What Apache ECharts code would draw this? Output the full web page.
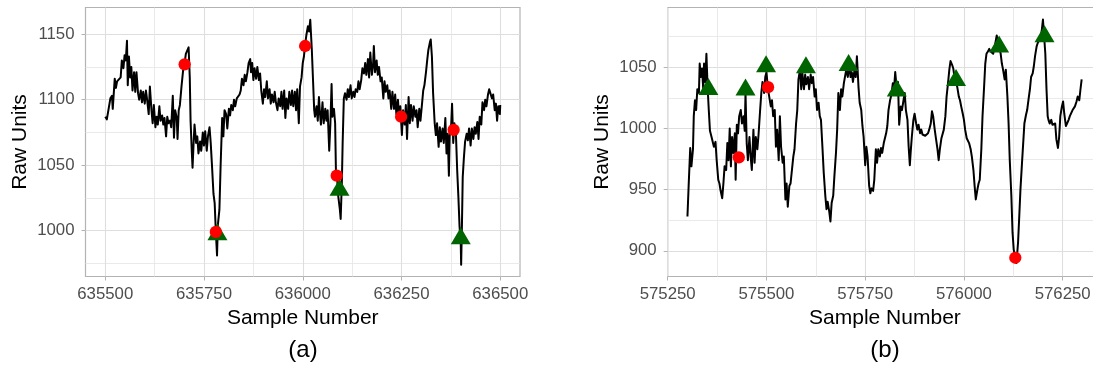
<!DOCTYPE html>
<html>
<head>
<meta charset="utf-8">
<script src="https://cdn.jsdelivr.net/npm/echarts@6/dist/echarts.min.js"></script>
<style>
  html, body { margin: 0; padding: 0; background: #ffffff; }
  #chart { width: 1093px; height: 367px; }
</style>
</head>
<body>
<div id="chart"></div>
<script>
// ---- Panel (a): raw signal around sample 636000 ----
const sampleA = [
  635500,635504,635508,635513,635517,635519,635524,635527,635530,635535,
  635539,635542,635546,635549,635552,635555,635557,635560,635563,635566,
  635569,635573,635576,635579,635583,635586,635590,635593,635596,635600,
  635603,635606,635610,635613,635617,635620,635623,635627,635630,635633,
  635637,635640,635644,635647,635650,635654,635657,635660,635664,635667,
  635671,635674,635677,635681,635683,635686,635689,635693,635698,635701,
  635704,635708,635711,635714,635716,635719,635721,635724,635726,635730,
  635733,635736,635740,635743,635747,635750,635753,635757,635760,635764,
  635767,635770,635774,635777,635780,635783,635785,635789,635792,635796,
  635799,635802,635806,635809,635813,635816,635819,635823,635826,635829,
  635833,635836,635840,635843,635846,635850,635853,635856,635860,635863,
  635867,635869,635872,635875,635878,635882,635885,635889,635892,635895,
  635899,635902,635905,635909,635912,635916,635919,635922,635926,635929,
  635932,635936,635939,635943,635946,635949,635953,635956,635959,635963,
  635966,635970,635973,635976,635980,635983,635986,635990,635993,635997,
  636000,
  636003,636006,636009,636013,636016,636019,636023,636026,636029,636031,
  636035,636038,636041,636043,636046,636050,636053,636057,636060,636063,
  636067,636070,636073,636075,636079,636082,636084,636087,636090,636094,
  636096,636099,636101,636104,636107,636111,636114,636117,636121,636124,
  636128,636131,636134,636138,636141,636144,636148,636151,636155,636158,
  636161,636165,636168,636171,636175,636178,636180,636183,636187,636190,
  636193,636197,636200,636204,636207,636210,636214,636217,636220,636224,
  636227,636231,636234,636237,636241,636244,636247,636251,636254,636258,
  636261,636264,636268,636271,636274,636278,636281,636285,636288,636291,
  636295,636298,636302,636305,636308,636312,636315,636318,636322,636324,
  636327,636330,636334,636337,636340,636344,636347,636350,636354,636357,
  636361,636364,636367,636370,636372,636376,636378,636381,636384,636388,
  636391,636394,636397,636400,636401,636403,636405,636408,636411,636415,
  636418,636421,636425,636428,636432,636435,636438,636442,636445,636448,
  636452,636455,636459,636462,636465,636469,636472,636476,636479,636482,
  636486,636489,636492,636495,636499,636500
];
const rawA = [
  1087,1085,1092,1101,1103,1093,1116,1109,1114,1115,
  1117,1130,1124,1134,1130,1145,1111,1133,1117,1125,
  1107,1121,1106,1121,1105,1100,1107,1098,1106,1097,
  1107,1100,1089,1110,1092,1082,1096,1079,1087,1081,
  1095,1084,1088,1081,1086,1072,1087,1082,1084,1079,
  1103,1071,1092,1086,1070,1092,1096,1110,1125,1128,
  1135,1136,1140,1117,1084,1061,1048,1069,1081,1067,
  1072,1059,1068,1061,1075,1065,1076,1061,1072,1079,
  1067,1051,1028,1021,999,981,1004,1016,1049,1086,
  1072,1092,1089,1078,1093,1088,1096,1092,1100,1095,
  1101,1100,1104,1107,1116,1111,1119,1114,1121,1128,
  1131,1121,1128,1115,1124,1116,1125,1115,1120,1107,
  1097,1108,1102,1114,1101,1108,1097,1104,1098,1106,
  1098,1092,1101,1095,1106,1093,1107,1086,1101,1093,
  1106,1096,1107,1095,1106,1092,1108,1082,1110,1117,
  1128,
  1133,1142,1149,1156,1152,1161,1138,1115,1092,1087,
  1095,1084,1102,1092,1081,1098,1082,1093,1084,1092,
  1061,1082,1112,1087,1093,1082,1046,1040,1026,1016,
  1009,1037,1067,1101,1105,1100,1108,1102,1111,1101,
  1106,1102,1108,1106,1114,1108,1115,1124,1120,1128,
  1119,1131,1117,1136,1119,1126,1141,1121,1130,1119,
  1125,1114,1117,1101,1114,1106,1111,1101,1107,1093,
  1106,1093,1104,1089,1100,1087,1095,1073,1092,1081,
  1096,1070,1102,1082,1096,1084,1095,1087,1092,1079,
  1093,1084,1097,1107,1111,1121,1130,1138,1144,1146,
  1133,1105,1082,1073,1082,1064,1079,1068,1078,1067,
  1086,1059,1074,1042,1072,1082,1097,1067,1082,1072,
  1046,1026,1003,990,974,1004,1041,1056,1068,1074,
  1069,1078,1065,1078,1070,1079,1074,1083,1070,1087,
  1081,1098,1092,1100,1095,1104,1108,1107,1101,1104,
  1092,1097,1084,1095,1089,1096
];
// detected events in panel (a)
const troughSampleA = [635784, 636093, 636400];
const troughRawA    = [997, 1031, 994];
const markSampleA   = [635701, 635780, 636006, 636086, 636249, 636382];
const markRawA      = [1127, 999, 1141, 1042, 1087, 1077];

// ---- Panel (b): raw signal around sample 575800 ----
const sampleB = [
  575300,575303,575307,575310,575314,575316,575319,575322,575325,575329,
  575331,575334,575337,575340,575342,575345,575348,575351,575354,575357,
  575361,575364,575367,575371,575374,575378,575381,575384,575388,575391,
  575394,575398,575401,575404,575407,575410,575413,575416,575420,575422,
  575425,575428,575431,575435,575438,575442,575445,575447,575450,575453,
  575457,575460,575463,575467,575470,575473,575477,575480,575484,575487,
  575490,575494,575497,575500,575504,575507,575511,575514,575517,575521,
  575524,575527,575531,575534,575537,575541,575544,575548,575551,575554,
  575558,575561,575564,575568,575571,575575,575578,575581,575585,575588,
  575591,575595,575598,575601,575605,575608,575612,575615,575618,575622,
  575625,575628,575632,575635,575638,575642,575645,575649,575652,575655,
  575659,575662,575665,575669,575672,575676,575679,575682,575686,575689,
  575692,575696,575699,575702,575706,575709,575713,575716,575719,575723,
  575726,575729,575733,575736,575740,575743,575746,575750,575753,575756,
  575760,575763,575766,575770,575773,575777,575780,575783,575787,575790,
  575793,575797,575800,
  575803,575806,575809,575813,575816,575820,575823,575826,575830,575833,
  575836,575840,575843,575847,575850,575853,575857,575860,575863,575865,
  575868,575872,575875,575879,575882,575885,575889,575892,575895,575899,
  575902,575906,575909,575912,575916,575919,575922,575926,575929,575933,
  575936,575939,575943,575946,575949,575953,575956,575960,575963,575966,
  575970,575973,575976,575980,575983,575987,575990,575993,575997,576000,
  576003,576007,576010,576013,576017,576020,576024,576027,576030,576034,
  576037,576040,576044,576047,576051,576054,576057,576061,576064,576067,
  576071,576074,576078,576083,576086,576089,576093,576096,576099,576103,
  576106,576110,576113,576116,576120,576123,576126,576130,576133,576137,
  576140,576143,576147,576150,576153,576157,576160,576164,576167,576170,
  576174,576177,576180,576184,576187,576190,576194,576197,576200,576202,
  576206,576209,576212,576214,576217,576221,576224,576228,576231,576234,
  576238,576241,576244,576248,576251,576254,576258,576261,576265,576268,
  576271,576275,576278,576281,576285,576288,576292,576295,576298
];
const rawB = [
  928,953,984,969,983,1010,1023,1015,1032,1029,
  1053,1042,1049,1032,1053,1038,1061,1034,1015,998,
  993,992,985,989,974,958,955,949,943,955,
  969,966,988,974,1000,969,993,980,996,958,
  1003,996,1010,1015,1004,1010,998,1029,988,974,
  993,977,966,999,972,993,983,995,1015,1029,
  1038,1029,1042,1046,1032,1026,1018,1023,1010,1015,
  985,999,974,1010,985,972,977,942,955,936,
  953,955,955,977,983,1004,1015,1040,1048,1032,
  1045,1032,1044,1036,1042,1032,1044,1037,1042,1026,
  1032,1015,1021,1010,1007,983,964,945,934,940,
  932,924,939,945,961,980,999,1029,1015,1032,
  1026,1037,1036,1048,1042,1052,1042,1046,1038,1048,
  1042,1059,1034,1021,1015,1002,993,970,985,977,
  953,947,951,949,958,983,972,983,977,984,
  980,988,989,
  996,1002,1015,1023,1027,1037,1032,1046,1032,1038,
  1003,1018,1015,1023,1029,1015,1007,985,970,980,
  993,1007,1012,1004,999,1003,996,999,995,996,
  994,995,996,999,1004,1014,1010,999,992,983,
  974,983,992,991,999,1010,1026,1038,1048,1055,
  1052,1049,1042,1037,1034,1026,1023,1018,1012,1007,
  999,992,993,988,983,977,966,953,942,950,
  955,958,983,1010,1034,1053,1061,1063,1065,1063,
  1064,1061,1067,1076,1070,1067,1061,1053,1048,1040,
  1048,1026,1004,974,945,915,901,894,890,907,
  928,950,972,988,1004,1011,1015,1025,1032,1042,
  1045,1051,1059,1067,1070,1070,1074,1080,1089,1080,
  1061,1032,1010,1007,1004,1007,1003,1002,1004,991,
  984,993,1010,1018,1022,1012,1002,1004,1007,1010,
  1011,1015,1016,1018,1022,1026,1023,1032,1040
];
// detected events in panel (b)
const peakSampleB = [575353, 575447, 575499, 575600, 575708, 575830, 575980, 576089, 576204];
const peakRawB    = [1032, 1031.5, 1050.5, 1049.7, 1051.6, 1030.7, 1039.4, 1066.6, 1075];
const markSampleB = [575430, 575504, 576130];
const markRawB    = [976.4, 1033.7, 894.3];

// ---- axis breaks ----
const xTicksA = [635500, 635750, 636000, 636250, 636500];
const xMinorA = [635625, 635875, 636125, 636375];
const yTicksA = [1000, 1050, 1100, 1150];
const yMinorA = [975, 1025, 1075, 1125];
const xTicksB = [575250, 575500, 575750, 576000, 576250];
const xMinorB = [575375, 575625, 575875, 576125];
const yTicksB = [900, 950, 1000, 1050];
const yMinorB = [925, 975, 1025, 1075];

const FONT = '"Liberation Sans", Arial, Helvetica, sans-serif';
const GRID_MAJOR = '#DEDEDE';
const GRID_MINOR = '#E4E4E4';
const BORDER = '#B3B3B3';

function zip(xs, ys) { return xs.map((x, i) => [x, ys[i]]); }

function majorX(gridIndex, min, max, ticks) {
  return {
    gridIndex, type: 'value', min, max,
    axisLine: { show: false },
    axisTick: { show: true, length: 4, lineStyle: { color: BORDER, width: 1 }, customValues: ticks },
    axisLabel: { customValues: ticks, formatter: v => String(v), color: '#4D4D4D',
                 fontSize: 16.8, fontFamily: FONT, margin: 9 },
    splitLine: { show: true, lineStyle: { color: GRID_MAJOR, width: 1.1 } },
    name: 'Sample Number', nameLocation: 'middle', nameGap: 28,
    nameTextStyle: { color: '#000', fontSize: 21, fontFamily: FONT }
  };
}
function minorX(gridIndex, min, max, ticks) {
  return {
    gridIndex, type: 'value', min, max,
    axisLine: { show: false },
    axisTick: { show: false, customValues: ticks },
    axisLabel: { show: false },
    splitLine: { show: true, lineStyle: { color: GRID_MINOR, width: 0.8 } }
  };
}
function majorY(gridIndex, min, max, ticks) {
  return {
    gridIndex, type: 'value', min, max,
    axisLine: { show: false },
    axisTick: { show: true, length: 4, lineStyle: { color: BORDER, width: 1 }, customValues: ticks },
    axisLabel: { customValues: ticks, formatter: v => String(v), color: '#4D4D4D',
                 fontSize: 16.8, fontFamily: FONT, margin: 11 },
    splitLine: { show: true, lineStyle: { color: GRID_MAJOR, width: 1.1 } },
    name: 'Raw Units', nameLocation: 'middle', nameGap: 55, nameRotate: 90,
    nameTextStyle: { color: '#000', fontSize: 21, fontFamily: FONT }
  };
}
function minorY(gridIndex, min, max, ticks) {
  return {
    gridIndex, type: 'value', min, max,
    axisLine: { show: false },
    axisTick: { show: false, customValues: ticks },
    axisLabel: { show: false },
    splitLine: { show: true, lineStyle: { color: GRID_MINOR, width: 0.8 } }
  };
}

function trace(xi, yi, xs, ys) {
  return {
    type: 'line', xAxisIndex: xi, yAxisIndex: yi, data: zip(xs, ys),
    showSymbol: false, symbol: 'none', silent: true, z: 3,
    lineStyle: { color: '#000000', width: 2, join: 'round', opacity: 1 }
  };
}
function triangles(xi, yi, xs, ys) {
  return {
    type: 'scatter', xAxisIndex: xi, yAxisIndex: yi, data: zip(xs, ys),
    symbol: 'triangle', symbolSize: [20, 17], symbolOffset: [0, -2.8], silent: true, z: 4,
    itemStyle: { color: '#006400', opacity: 1 }
  };
}
function dots(xi, yi, xs, ys) {
  return {
    type: 'scatter', xAxisIndex: xi, yAxisIndex: yi, data: zip(xs, ys),
    symbol: 'circle', symbolSize: 12.3, silent: true, z: 5,
    itemStyle: { color: '#FF0000', opacity: 1 }
  };
}

const chart = echarts.init(document.getElementById('chart'), null, { renderer: 'canvas' });
chart.setOption({
  animation: false,
  backgroundColor: '#ffffff',
  textStyle: { fontFamily: FONT },
  grid: [
    { left: 85.5, top: 7.5, width: 434.5, height: 269, show: true,
      borderColor: BORDER, borderWidth: 1.2, backgroundColor: 'transparent', outerBoundsMode: 'none' },
    { left: 667.7, top: 7.5, width: 434.5, height: 269, show: true,
      borderColor: BORDER, borderWidth: 1.2, backgroundColor: 'transparent', outerBoundsMode: 'none' }
  ],
  xAxis: [
    majorX(0, 635450, 636550, xTicksA),
    minorX(0, 635450, 636550, xMinorA),
    majorX(1, 575250, 576350, xTicksB),
    minorX(1, 575250, 576350, xMinorB)
  ],
  yAxis: [
    majorY(0, 965, 1170.4, yTicksA),
    minorY(0, 965, 1170.4, yMinorA),
    majorY(1, 879, 1098.8, yTicksB),
    minorY(1, 879, 1098.8, yMinorB)
  ],
  series: [
    trace(0, 0, sampleA, rawA),
    triangles(0, 0, troughSampleA, troughRawA),
    dots(0, 0, markSampleA, markRawA),
    trace(2, 2, sampleB, rawB),
    triangles(2, 2, peakSampleB, peakRawB),
    dots(2, 2, markSampleB, markRawB)
  ],
  graphic: [
    { type: 'text', x: 303, y: 350, silent: true,
      style: { text: '(a)', fill: '#000', font: '24px ' + FONT, textAlign: 'center', textVerticalAlign: 'middle' } },
    { type: 'text', x: 885, y: 350, silent: true,
      style: { text: '(b)', fill: '#000', font: '24px ' + FONT, textAlign: 'center', textVerticalAlign: 'middle' } }
  ]
});
</script>
</body>
</html>
